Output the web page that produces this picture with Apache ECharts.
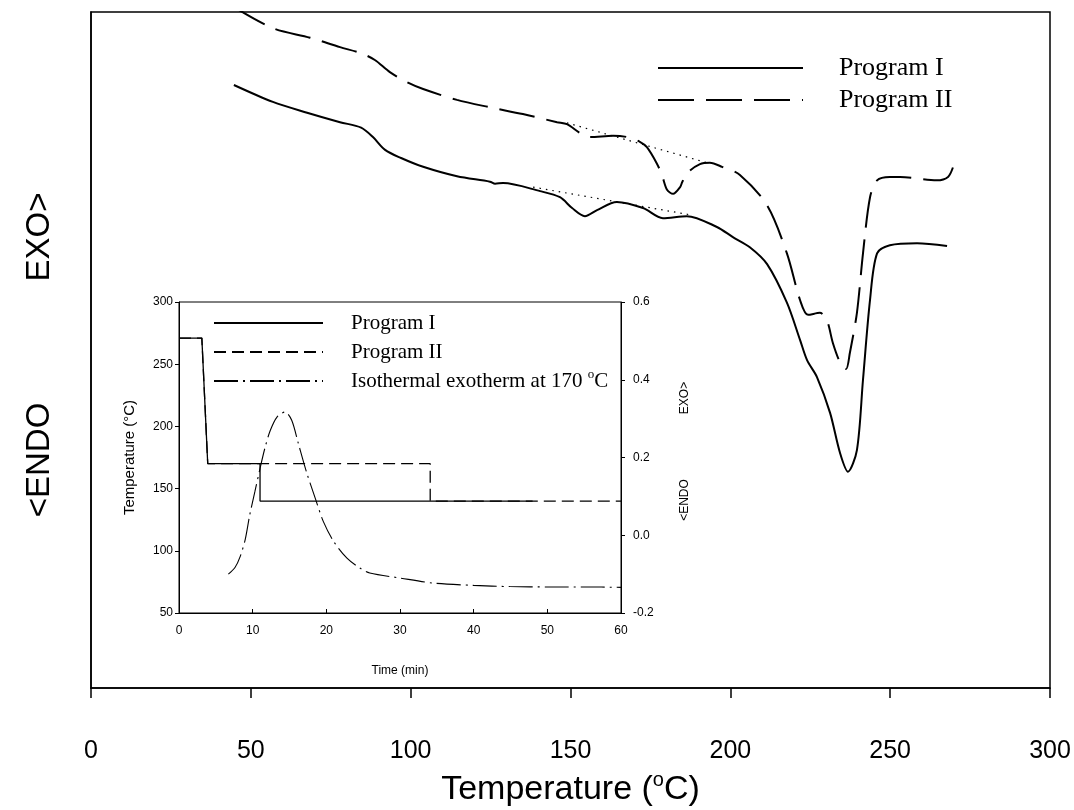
<!DOCTYPE html>
<html>
<head>
<meta charset="utf-8">
<script src="https://cdn.jsdelivr.net/npm/echarts@6/dist/echarts.min.js"></script>
<style>
  html, body { margin: 0; padding: 0; background: #fff; }
  #chart { width: 1074px; height: 810px; }
</style>
</head>
<body>
<div id="chart"></div>
<script>
// DSC heating scans after the two cooling programs (arbitrary heat-flow units)
const progITemp = [44.7, 56.9, 67.6, 77.9, 84.5, 88.2, 92.0, 97.0, 103.9, 114.5, 124.8, 126.4, 128.9, 140.5, 146.7, 150.5, 154.5, 158.3, 164.5, 172.7, 178.9, 186.4, 195.8, 200.8, 206.1, 211.5, 217.7, 221.8, 224.0, 227.1, 231.2, 234.3, 236.8, 239.6, 241.5, 243.7, 245.9, 249.9, 258.4, 267.8];
const progIHeat = [89.2, 86.7, 85.1, 83.7, 82.9, 81.5, 79.6, 78.4, 77.1, 75.7, 74.9, 74.6, 74.7, 73.5, 72.6, 71.0, 69.8, 70.7, 71.9, 71.0, 69.5, 69.8, 68.2, 66.7, 65.2, 62.7, 57.0, 51.5, 48.5, 46.0, 40.7, 34.8, 32.0, 35.2, 45.6, 57.4, 64.3, 65.5, 65.8, 65.4];

const progIITemp = [44.5, 56.9, 68.5, 77.9, 84.5, 88.8, 93.5, 98.9, 103.9, 114.5, 124.8, 135.1, 145.8, 148.9, 153.0, 156.1, 163.3, 167.7, 171.7, 173.9, 177.0, 178.6, 180.2, 182.1, 184.3, 185.0, 186.8, 190.5, 193.6, 197.4, 203.0, 211.5, 217.7, 221.8, 224.3, 228.0, 230.2, 232.1, 234.3, 236.2, 237.4, 239.6, 241.5, 243.7, 245.9, 249.9, 253.1, 264.6, 268.1, 269.7];
const progIIHeat = [100.8, 97.6, 96.2, 94.8, 93.9, 92.9, 91.1, 89.6, 88.6, 87.0, 85.9, 84.9, 83.7, 83.4, 82.1, 81.5, 81.7, 81.5, 80.8, 80.0, 77.6, 75.9, 73.7, 73.1, 74.1, 74.9, 76.3, 77.5, 77.7, 77.1, 75.9, 71.4, 64.3, 57.4, 55.2, 55.5, 54.4, 51.0, 48.2, 47.2, 49.6, 55.5, 64.3, 72.6, 75.1, 75.6, 75.6, 75.1, 75.6, 77.1];

// Construction baselines under the small endotherms
const baseITemp = [138.3, 187.4];
const baseIHeat = [74.1, 70.0];
const baseIITemp = [148.9, 192.7];
const baseIIHeat = [83.6, 77.7];

// Cooling programs (time in min, temperature in °C)
const coolITime = [0, 3.1, 3.9, 11, 11, 48];
const coolITemp = [271, 271, 170, 170, 140, 140];
const coolIITime = [0, 3.1, 3.9, 34.1, 34.1, 60];
const coolIITemp = [271, 271, 170, 170, 140, 140];

// Isothermal exotherm at 170 °C (heat flow, right axis)
const exoTime = [6.7, 7.6, 8.3, 9.0, 9.6, 10.3, 11.0, 11.7, 12.4, 13.3, 14.4, 15.3, 16.2, 17.3, 18.5, 19.6, 21.0, 22.8, 24.6, 25.9, 30.0, 34.5, 40.0, 44.9, 50.4, 55.3, 60];
const exoHeat = [-0.100, -0.083, -0.055, -0.010, 0.052, 0.112, 0.172, 0.227, 0.270, 0.304, 0.317, 0.296, 0.236, 0.163, 0.095, 0.035, -0.016, -0.059, -0.085, -0.097, -0.110, -0.123, -0.129, -0.132, -0.133, -0.133, -0.134];

// Axis ticks
const tempTicks = { min: 0, max: 300, step: 50 };
const timeTicks = { min: 0, max: 60, step: 10 };
const insetTempTicks = { min: 50, max: 300, step: 50 };
const insetHeatTicks = { min: -0.2, max: 0.6, step: 0.2 };

// Legend labels
const legendLabels = {
  scanI: 'Program I',
  scanII: 'Program II',
  coolI: 'Program I',
  coolII: 'Program II',
  exo: 'Isothermal exotherm at 170 {sup|o}C'
};

const zip = (xs, ys) => xs.map((x, i) => [x, ys[i]]);

const SANS = 'Liberation Sans, Arial, sans-serif';
const SERIF = 'Liberation Serif, Times New Roman, serif';
const BLACK = '#000';

const chart = echarts.init(document.getElementById('chart'), null, { renderer: 'canvas' });

const option = {
  backgroundColor: '#fff',
  animation: false,
  grid: [
    { left: 91, top: 12, width: 959, height: 676, show: true, borderColor: BLACK, borderWidth: 1.5,
      backgroundColor: 'transparent', outerBoundsMode: 'none', containLabel: false },
    { left: 179, top: 302, width: 442, height: 311, show: true, borderColor: BLACK, borderWidth: 1,
      backgroundColor: 'transparent', outerBoundsMode: 'none', containLabel: false }
  ],
  xAxis: [
    {
      gridIndex: 0, type: 'value',
      min: tempTicks.min, max: tempTicks.max, interval: tempTicks.step,
      axisLine: { show: true, onZero: false, lineStyle: { color: BLACK, width: 1.5 } },
      axisTick: { show: true, inside: false, length: 10, lineStyle: { color: BLACK, width: 1.5 } },
      axisLabel: { color: BLACK, fontSize: 25, fontFamily: SANS, margin: 51 },
      splitLine: { show: false },
      name: 'Temperature ({sup|o}C)',
      nameLocation: 'middle', nameGap: 82,
      nameTextStyle: {
        color: BLACK, fontSize: 34, fontFamily: SANS, lineHeight: 40,
        rich: { sup: { fontSize: 20, fontFamily: SANS, color: BLACK, verticalAlign: 'top', lineHeight: 20 } }
      }
    },
    {
      gridIndex: 1, type: 'value',
      min: timeTicks.min, max: timeTicks.max, interval: timeTicks.step,
      axisLine: { show: true, onZero: false, lineStyle: { color: BLACK, width: 1 } },
      axisTick: { show: true, inside: true, length: 4, lineStyle: { color: BLACK } },
      axisLabel: { color: BLACK, fontSize: 12, fontFamily: SANS, margin: 12 },
      splitLine: { show: false },
      name: 'Time (min)', nameLocation: 'middle', nameGap: 52,
      nameTextStyle: { color: BLACK, fontSize: 12, fontFamily: SANS }
    }
  ],
  yAxis: [
    {
      gridIndex: 0, type: 'value', min: 0, max: 100,
      axisLine: { show: true, onZero: false, lineStyle: { color: BLACK, width: 1.5 } },
      axisTick: { show: false }, axisLabel: { show: false }, splitLine: { show: false }
    },
    {
      gridIndex: 1, type: 'value', position: 'left',
      min: insetTempTicks.min, max: insetTempTicks.max, interval: insetTempTicks.step,
      axisLine: { show: true, onZero: false, lineStyle: { color: BLACK, width: 1 } },
      axisTick: { show: true, length: 4, lineStyle: { color: BLACK } },
      axisLabel: { color: BLACK, fontSize: 12, fontFamily: SANS, margin: 6 },
      splitLine: { show: false },
      name: 'Temperature (°C)', nameLocation: 'middle', nameGap: 42, nameRotate: 90,
      nameTextStyle: { color: BLACK, fontSize: 15, fontFamily: SANS }
    },
    {
      gridIndex: 1, type: 'value', position: 'right',
      min: insetHeatTicks.min, max: insetHeatTicks.max, interval: insetHeatTicks.step,
      axisLine: { show: true, onZero: false, lineStyle: { color: BLACK, width: 1 } },
      axisTick: { show: true, length: 4, lineStyle: { color: BLACK } },
      axisLabel: { color: BLACK, fontSize: 12, fontFamily: SANS, margin: 12, formatter: v => v.toFixed(1) },
      splitLine: { show: false }
    }
  ],
  legend: [
    {
      orient: 'vertical', left: 657, top: 53, padding: 0,
      itemWidth: 145, itemHeight: 14, itemGap: 2,
      data: ['scanI', 'scanII'],
      formatter: n => legendLabels[n],
      itemStyle: { opacity: 0 },
      textStyle: { color: BLACK, fontSize: 26, fontFamily: SERIF, lineHeight: 30, padding: [0, 0, 0, 31] },
      selectedMode: false
    },
    {
      orient: 'vertical', left: 213, top: 310.5, padding: 0,
      itemWidth: 109, itemHeight: 12, itemGap: 4,
      data: ['coolI', 'coolII', 'exo'],
      formatter: n => legendLabels[n],
      itemStyle: { opacity: 0 },
      textStyle: {
        color: BLACK, fontSize: 21, fontFamily: SERIF, lineHeight: 25, padding: [0, 0, 0, 23],
        rich: { sup: { fontSize: 13, fontFamily: SERIF, color: BLACK, verticalAlign: 'top', lineHeight: 13 } }
      },
      selectedMode: false
    }
  ],
  graphic: [
    { type: 'text', x: 40, y: 237, rotation: Math.PI / 2,
      style: { text: 'EXO>', fontSize: 33, fontFamily: SANS, fill: BLACK, align: 'center', verticalAlign: 'middle' } },
    { type: 'text', x: 40, y: 460, rotation: Math.PI / 2,
      style: { text: '<ENDO', fontSize: 33, fontFamily: SANS, fill: BLACK, align: 'center', verticalAlign: 'middle' } },
    { type: 'text', x: 685, y: 398, rotation: Math.PI / 2,
      style: { text: 'EXO>', fontSize: 12, fontFamily: SANS, fill: BLACK, align: 'center', verticalAlign: 'middle' } },
    { type: 'text', x: 685, y: 500, rotation: Math.PI / 2,
      style: { text: '<ENDO', fontSize: 12, fontFamily: SANS, fill: BLACK, align: 'center', verticalAlign: 'middle' } }
  ],
  series: [
    {
      name: 'scanI', type: 'line', xAxisIndex: 0, yAxisIndex: 0,
      data: zip(progITemp, progIHeat), showSymbol: false, symbol: 'none',
      smooth: 0.3,
      lineStyle: { color: BLACK, width: 2, type: 'solid' }
    },
    {
      name: 'scanII', type: 'line', xAxisIndex: 0, yAxisIndex: 0,
      data: zip(progIITemp, progIIHeat), showSymbol: false, symbol: 'none',
      smooth: 0.3, clip: true,
      lineStyle: { color: BLACK, width: 2, type: [36, 12] }
    },
    {
      name: 'baseI', type: 'line', xAxisIndex: 0, yAxisIndex: 0,
      data: zip(baseITemp, baseIHeat), showSymbol: false, symbol: 'none',
      lineStyle: { color: BLACK, width: 1.2, type: [1.5, 5] }
    },
    {
      name: 'baseII', type: 'line', xAxisIndex: 0, yAxisIndex: 0,
      data: zip(baseIITemp, baseIIHeat), showSymbol: false, symbol: 'none',
      lineStyle: { color: BLACK, width: 1.2, type: [1.5, 5] }
    },
    {
      name: 'coolI', type: 'line', xAxisIndex: 1, yAxisIndex: 1,
      data: zip(coolITime, coolITemp), showSymbol: false, symbol: 'none',
      lineStyle: { color: BLACK, width: 1.3, type: 'solid' }
    },
    {
      name: 'coolII', type: 'line', xAxisIndex: 1, yAxisIndex: 1,
      data: zip(coolIITime, coolIITemp), showSymbol: false, symbol: 'none',
      lineStyle: { color: BLACK, width: 1.3, type: [12, 6] }
    },
    {
      name: 'exo', type: 'line', xAxisIndex: 1, yAxisIndex: 2,
      data: zip(exoTime, exoHeat), showSymbol: false, symbol: 'none',
      smooth: 0.3,
      lineStyle: { color: BLACK, width: 1.1, type: [24, 5, 2, 5] }
    }
  ]
};

chart.setOption(option);
</script>
</body>
</html>
